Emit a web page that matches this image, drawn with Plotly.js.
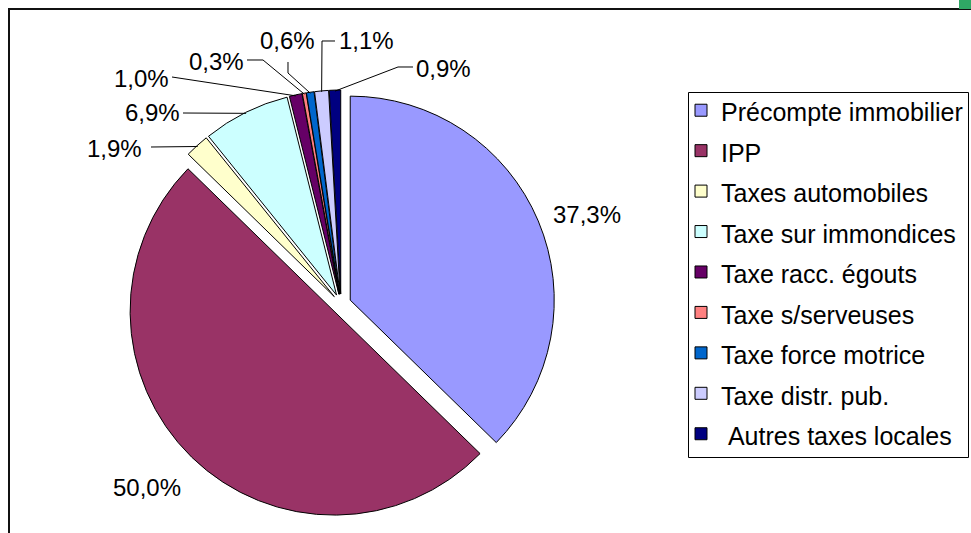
<!DOCTYPE html>
<html><head><meta charset="utf-8">
<script src="https://cdn.plot.ly/plotly-3.0.1.min.js"></script>
<style>html,body{margin:0;padding:0;background:#fff;overflow:hidden}</style>
</head><body><div id="chart" style="width:971px;height:533px"></div>
<script>
// ---- data ----
const categories = ['Précompte immobilier','IPP','Taxes automobiles','Taxe sur immondices','Taxe racc. égouts','Taxe s/serveuses','Taxe force motrice','Taxe distr. pub.','\u00a0Autres taxes locales'];
const shares = [37.3, 50.0, 1.9, 6.9, 1.0, 0.3, 0.6, 1.1, 0.9];
const sliceColors = ['#9999FF','#993366','#FFFFCC','#CCFFFF','#660066','#FF8080','#0066CC','#CCCCFF','#000080'];

// ---- layout constants (pixels) ----
const W = 971, H = 533;
const dom = {x:[0.1308, 0.5716], y:[0.0281, 0.8311]};
const pull = 0.049;
// label centre + leader-line knee points (pixels)
const labelCentres = [[587,214],[147,487],[114,148],[152,113],[141,78],[216,61],[287,40],[366,41],[443,68]];
const leaderKnees = [null, null, [[151,147]], [[183,113]], [[172,77]], [[247,60],[263,60]], [[288,62],[288,73]], [[335,41],[322,41]], [[413,67],[398,67]]];

const fmt = v => v.toFixed(1).replace('.', ',') + '%';
const px = x => x / W, py = y => 1 - y / H;

// pie geometry, following Plotly's own sizing of the domain box
const boxW = (dom.x[1]-dom.x[0])*W, boxH = (dom.y[1]-dom.y[0])*H;
const r = Math.min(boxW, boxH) / (2 + 2*pull);
const cx = (dom.x[0]+dom.x[1])/2*W, cy = H*(1-dom.y[0]) - boxH/2;
const total = shares.reduce((a,b)=>a+b,0);

const annotations = [], shapes = [];
let cum = 0;
shares.forEach((v,i) => {
  const th = 2*Math.PI*(cum + v/2)/total;
  cum += v;
  const rr = r*(1+pull) - 1;
  const ex = cx + rr*Math.sin(th), ey = cy - rr*Math.cos(th);
  annotations.push({x: px(labelCentres[i][0]), y: py(labelCentres[i][1]), xref:'paper', yref:'paper',
    text: fmt(v), showarrow:false, xanchor:'center', yanchor:'middle',
    font:{family:'Liberation Sans, Arial, sans-serif', size:24, color:'#000'}});
  if (leaderKnees[i]) {
    const pts = leaderKnees[i].concat([[ex,ey]]);
    const path = pts.map((p,k)=>(k?'L':'M')+px(p[0]).toFixed(5)+','+py(p[1]).toFixed(5)).join(' ');
    shapes.push({type:'path', xref:'paper', yref:'paper', path, line:{color:'#000', width:1}});
  }
});

// frame, legend box and corner mark
shapes.push({type:'rect', xref:'paper', yref:'paper', x0:px(9), x1:px(990), y0:py(9), y1:py(560), line:{color:'#111', width:2}, layer:'below'});
shapes.push({type:'rect', xref:'paper', yref:'paper', x0:px(688.5), x1:px(968.5), y0:py(92.5), y1:py(457.5), line:{color:'#000', width:1}, fillcolor:'#fff', layer:'below'});
shapes.push({type:'rect', xref:'paper', yref:'paper', x0:px(959), x1:px(975), y0:py(-2), y1:py(9), line:{width:0}, fillcolor:'#2fa865'});

const trace = {
  type:'pie', labels: categories.map(c => '<span style="font-size:25px">' + c + '</span>'),
  values: shares, sort:false, direction:'clockwise', rotation:0,
  pull: shares.map(()=>pull), textinfo:'none', hoverinfo:'label+percent',
  marker:{colors: sliceColors, line:{color:'#000', width:1}},
  domain: dom
};

const layout = {
  width:W, height:H, margin:{l:0,r:0,t:0,b:0}, paper_bgcolor:'#fff',
  font:{family:'Liberation Sans, Arial, sans-serif', color:'#000'},
  showlegend:true,
  legend:{x:px(681), y:py(85), xanchor:'left', yanchor:'top', bgcolor:'rgba(0,0,0,0)', borderwidth:0,
    font:{size:28.8, family:'Liberation Sans, Arial, sans-serif', color:'#000'}, traceorder:'normal'},
  annotations, shapes
};
Plotly.newPlot('chart', [trace], layout, {displayModeBar:false, staticPlot:true});
</script></body></html>
